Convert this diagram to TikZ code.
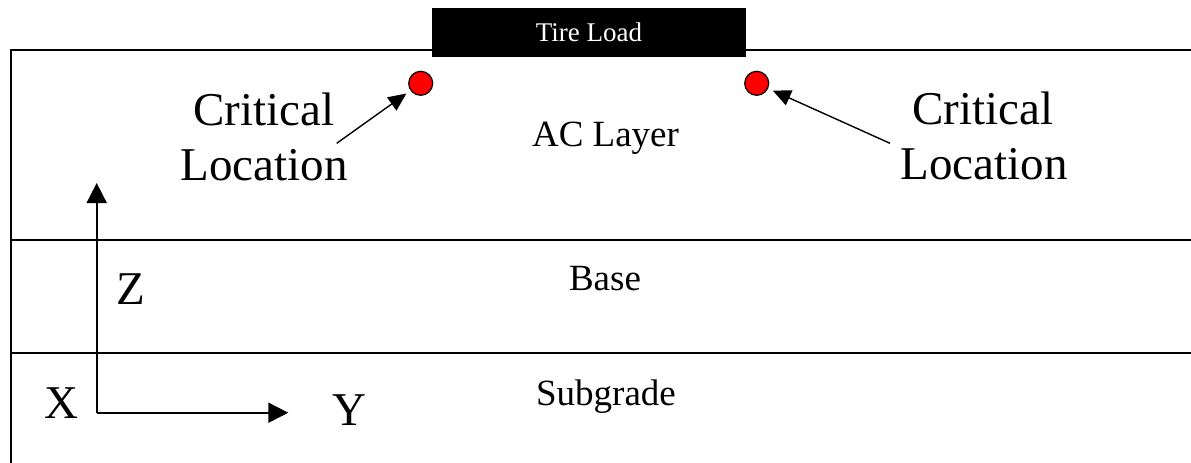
\documentclass[tikz,border=0pt]{standalone}
\usepackage{fontspec}
\setmainfont{Liberation Serif}
\usetikzlibrary{arrows.meta}
\begin{document}
\begin{tikzpicture}[x=1pt,y=-1pt,
  layer/.style={line width=1.5pt},
  lbl/.style={font=\fontsize{37}{44}\selectfont, inner sep=0pt, anchor=base},
  big/.style={font=\fontsize{47}{55}\selectfont, inner sep=0pt, anchor=base},
  spot/.style={circle, draw=black, line width=1.2pt, fill=red, minimum size=24pt, inner sep=0pt},
  pointer/.style={-{Triangle[length=18pt,width=16pt]}, line width=1.4pt, shorten >=5pt},
  axis/.style={-{Triangle[length=20pt,width=20pt]}, line width=1.8pt},
  load/.style={fill=black, text=white, minimum width=314pt, minimum height=49pt, inner sep=0pt,
    font=\fontsize{27}{32}\selectfont}]
\useasboundingbox (0,0) rectangle (1191,463);

% pavement layers
\draw[layer] (1191,50) -- (11,50) -- (11,463);
\draw[layer] (11,240) -- (1191,240);
\draw[layer] (11,353) -- (1191,353);

% tire load
\node[load] (tire) at (589,32.5) {Tire Load};

% layer names
\node[lbl] (ac) at (605.5,146.7) {AC Layer};
\node[lbl] (base) at (605,290) {Base};
\node[lbl] (sub) at (606,405) {Subgrade};

% critical locations
\node[spot] (critA) at (420.7,83.3) {};
\node[spot] (critB) at (756.7,83.3) {};

\node[big] (critAt) at (264,125) {Critical};
\node[big] (critAb) at (264,180) {Location};
\node[big] (critBt) at (983,124) {Critical};
\node[big] (critBb) at (984,179) {Location};

\coordinate (fromA) at (336.7,143.3);
\coordinate (fromB) at (890,143.3);
\draw[pointer] (fromA) -- (critA);
\draw[pointer] (fromB) -- (critB);

% coordinate axes
\coordinate (origin) at (96.7,412.7);
\coordinate (ztip) at (96.7,183);
\coordinate (ytip) at (288.3,412.7);
\draw[axis] (origin) -- (ztip);
\draw[axis] (origin) -- (ytip);
\node[big] (zlab) at (130.5,304) {Z};
\node[big] (xlab) at (61,418) {X};
\node[big] (ylab) at (349,425) {Y};
\end{tikzpicture}
\end{document}
